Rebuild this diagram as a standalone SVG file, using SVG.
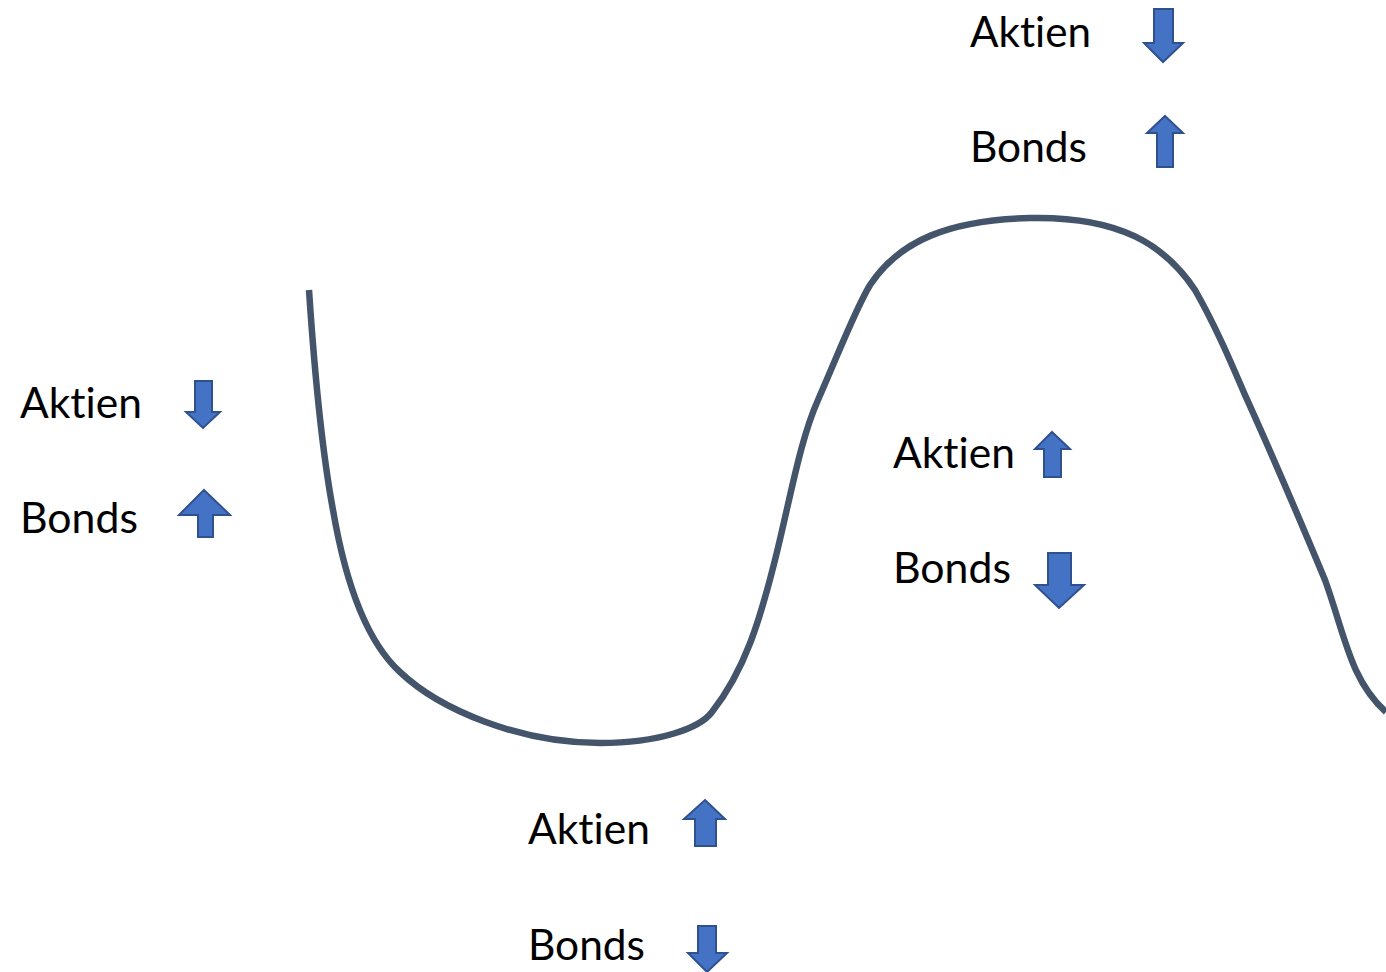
<svg xmlns="http://www.w3.org/2000/svg" width="1386" height="972" viewBox="0 0 1386 972">
<style>
.t{font-family:Lato,"Open Sans","Liberation Sans",sans-serif;font-size:43px;fill:#000;font-variant-ligatures:none;font-feature-settings:"liga" 0,"clig" 0}
.a{fill:#4472C4;stroke:#2F528F;stroke-width:2;stroke-linejoin:miter}
.c{fill:none;stroke:#44546A;stroke-width:6.5;stroke-linecap:butt}
</style>
<rect width="1386" height="972" fill="#fff"/>
<g id="connectors">
<path class="c" d="M309,290 C313,350 320,440 333,510 C345,580 365,640 400,672 C440,710 520,743 600,743 C660,743 700,728 712,712 C745,670 760,620 775,560 C790,500 800,440 818,400 C840,350 855,310 870,285 C900,240 950,220 1030,218 C1120,216 1165,245 1195,290 C1215,325 1230,360 1245,395 C1270,450 1300,520 1325,580 C1345,635 1350,680 1386,712"/>
</g>
<g id="top">
<text class="t" x="970" y="47" textLength="121" lengthAdjust="spacingAndGlyphs">Aktien</text>
<polygon class="a" points="1154,9 1173,9 1173,43 1183,43 1163,62 1144,43 1154,43"/>
<text class="t" x="970" y="162" textLength="117" lengthAdjust="spacingAndGlyphs">Bonds</text>
<polygon class="a" points="1165,116 1183,133 1173,133 1173,167 1157,167 1157,133 1147,133"/>
</g>
<g id="left">
<text class="t" x="20" y="418" textLength="122" lengthAdjust="spacingAndGlyphs">Aktien</text>
<polygon class="a" points="195,381 212,381 212,412 220,412 203,428 186,412 195,412"/>
<text class="t" x="20" y="533" textLength="118" lengthAdjust="spacingAndGlyphs">Bonds</text>
<polygon class="a" points="204,490 230,515 213,515 213,537 198,537 198,515 179,515"/>
</g>
<g id="middle">
<text class="t" x="893" y="468" textLength="122" lengthAdjust="spacingAndGlyphs">Aktien</text>
<polygon class="a" points="1052,432 1070,449 1061,449 1061,477 1044,477 1044,449 1035,449"/>
<text class="t" x="893" y="583" textLength="118" lengthAdjust="spacingAndGlyphs">Bonds</text>
<polygon class="a" points="1048,553 1071,553 1071,585 1084,585 1059,608 1035,585 1048,585"/>
</g>
<g id="bottom">
<text class="t" x="528" y="844" textLength="122" lengthAdjust="spacingAndGlyphs">Aktien</text>
<polygon class="a" points="705,800 725,819 716,819 716,846 695,846 695,819 684,819"/>
<text class="t" x="528" y="960" textLength="117" lengthAdjust="spacingAndGlyphs">Bonds</text>
<polygon class="a" points="698,926 716,926 716,953 727,953 707,972 688,953 698,953"/>
</g>
</svg>
